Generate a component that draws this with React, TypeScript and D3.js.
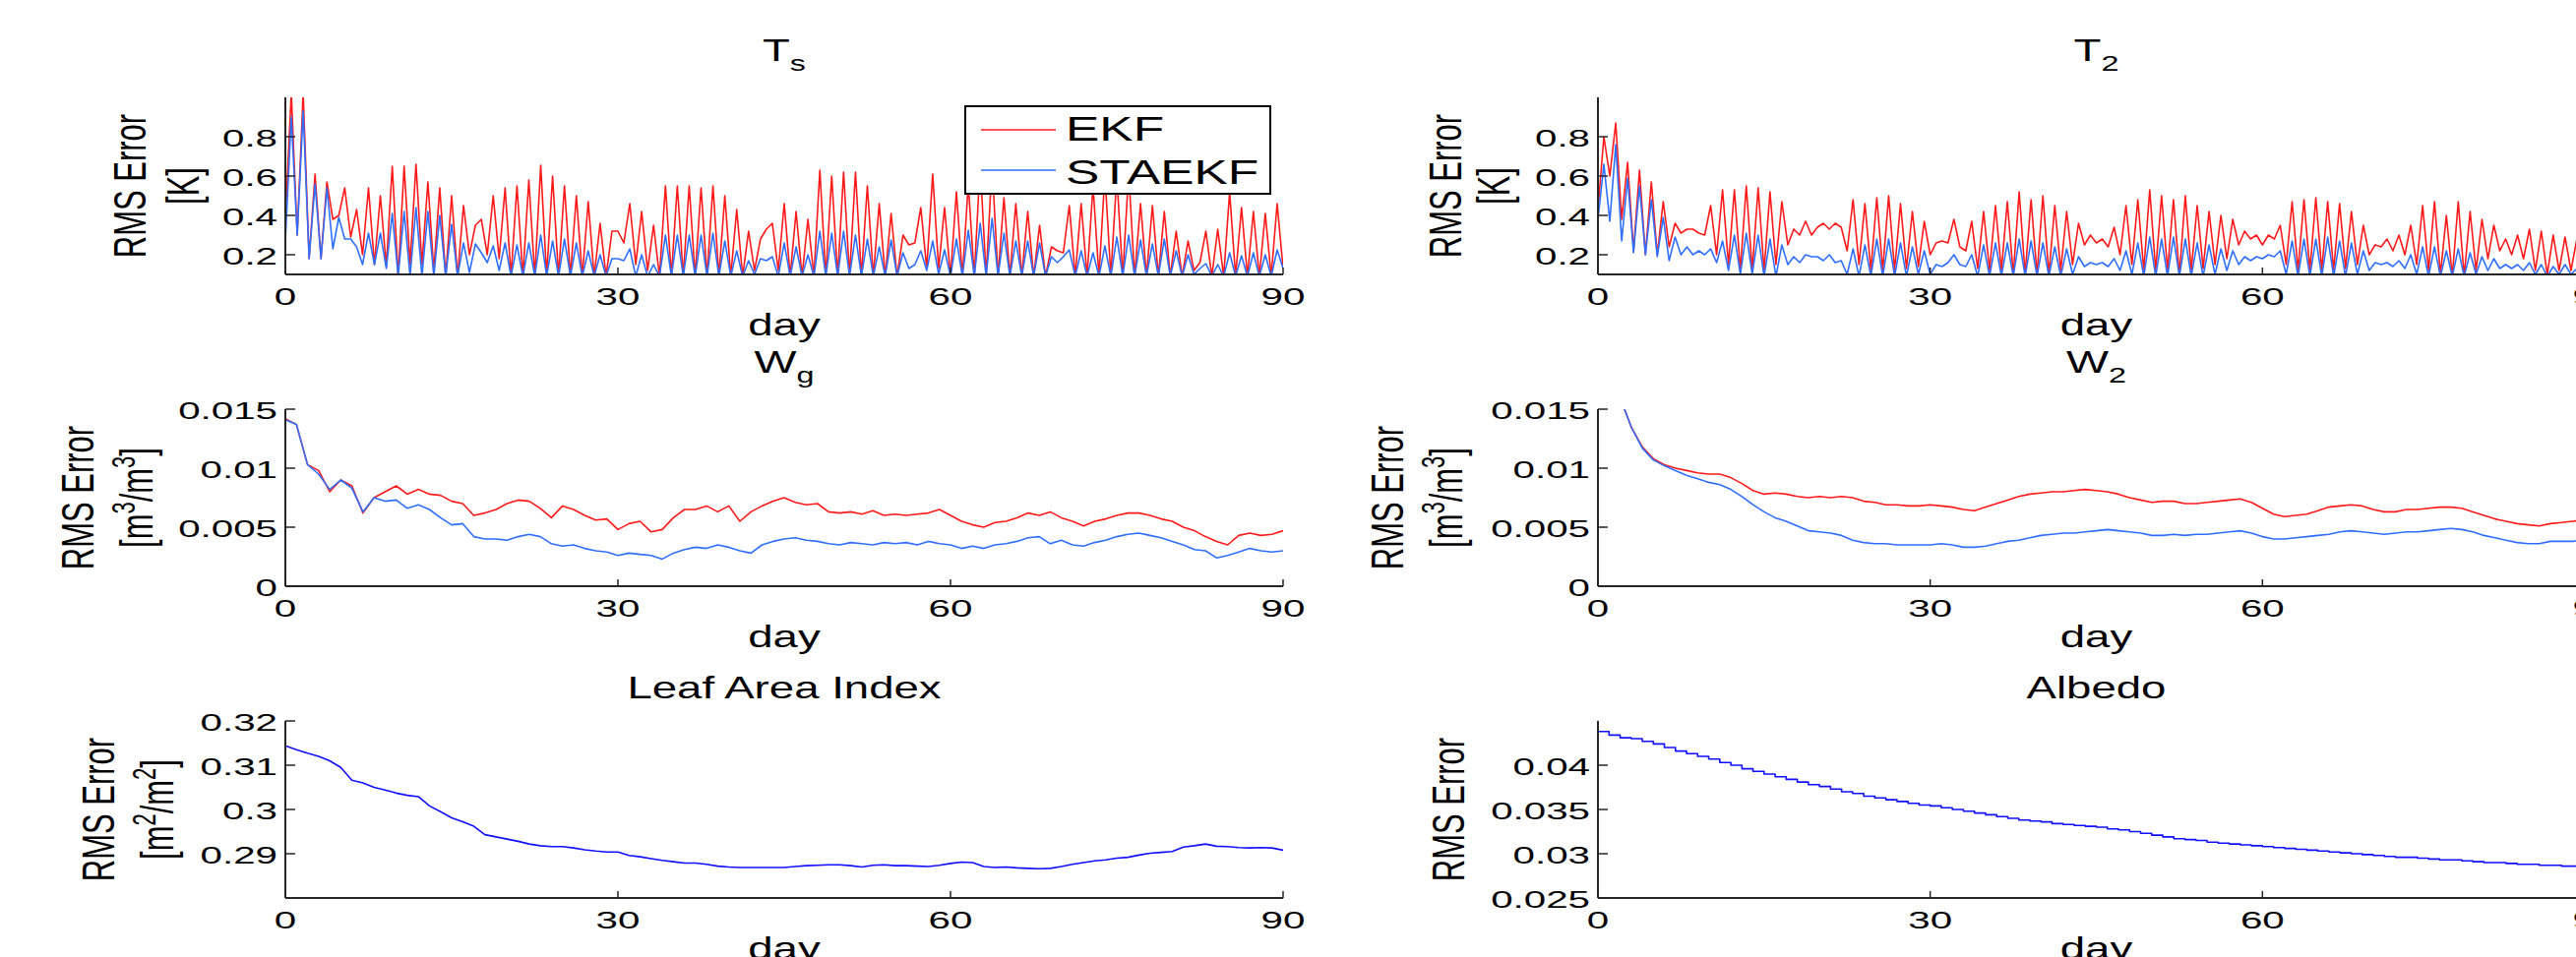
import React from "react";
import * as d3 from "d3";

const WIDTH = 2618;
const HEIGHT = 973;
const FONT = "'Liberation Sans', Arial, Helvetica, sans-serif";

// ---- data ----
const dayTicks = [0, 30, 60, 90];
const tTicks = [0.2, 0.4, 0.6, 0.8];
const wTicks = [0, 0.005, 0.01, 0.015];
const laiTicks = [0.29, 0.3, 0.31, 0.32];
const albedoTicks = [0.025, 0.03, 0.035, 0.04];

// T_s, samples evenly spaced over day 0..90
const tsEkf = [
  0.38, 1.02, 0.30, 1.02, 0.18, 0.61, 0.18, 0.57, 0.38, 0.40,
  0.54, 0.29, 0.43, 0.20, 0.54, 0.15, 0.50, 0.14, 0.65, 0.09,
  0.65, 0.15, 0.66, 0.15, 0.57, 0.12, 0.54, 0.09, 0.50, 0.09,
  0.45, 0.20, 0.35, 0.38, 0.20, 0.50, 0.18, 0.54,
  0.09, 0.55, 0.09, 0.58, 0.09, 0.655, 0.09, 0.60, 0.09, 0.55,
  0.09, 0.50, 0.09, 0.47, 0.09, 0.36, 0.09, 0.32, 0.32, 0.26,
  0.46, 0.15, 0.42, 0.12, 0.35, 0.09, 0.55, 0.09, 0.55, 0.09,
  0.55, 0.09, 0.54, 0.09, 0.55, 0.09, 0.50, 0.09, 0.43, 0.09,
  0.32, 0.12, 0.28, 0.33, 0.36, 0.12, 0.46, 0.09, 0.42, 0.09,
  0.38, 0.09, 0.63, 0.09, 0.60, 0.09, 0.62, 0.09, 0.62, 0.09,
  0.55, 0.09, 0.46, 0.09,
  0.41, 0.09, 0.30, 0.25, 0.26, 0.44, 0.13, 0.61, 0.13, 0.44,
  0.09, 0.52, 0.09, 0.56, 0.09, 0.66, 0.09, 0.66, 0.09, 0.49,
  0.09, 0.46, 0.09, 0.42, 0.09, 0.35, 0.09, 0.24, 0.22, 0.21,
  0.45, 0.09, 0.46, 0.09, 0.55, 0.09, 0.61, 0.09, 0.60, 0.09,
  0.62, 0.09, 0.46, 0.09, 0.45, 0.09, 0.42, 0.09, 0.32, 0.09,
  0.27, 0.12, 0.16, 0.32, 0.09, 0.33, 0.09, 0.52, 0.09, 0.44,
  0.09, 0.42, 0.09, 0.41, 0.09, 0.46, 0.13,
];
const tsStaekf = [
  0.27, 0.90, 0.30, 0.93, 0.18, 0.56, 0.18, 0.54, 0.23, 0.39,
  0.28, 0.28, 0.24, 0.15, 0.31, 0.15, 0.31, 0.13, 0.41, 0.09,
  0.42, 0.09, 0.44, 0.09, 0.42, 0.09, 0.40, 0.09, 0.355, 0.09,
  0.26, 0.11, 0.255, 0.21, 0.16, 0.245, 0.12, 0.26,
  0.09, 0.25, 0.09, 0.26, 0.09, 0.30, 0.09, 0.27, 0.09, 0.28,
  0.09, 0.26, 0.09, 0.22, 0.09, 0.20, 0.09, 0.18, 0.18, 0.17,
  0.23, 0.09, 0.20, 0.09, 0.15, 0.09, 0.30, 0.09, 0.30, 0.09,
  0.30, 0.09, 0.30, 0.09, 0.31, 0.09, 0.27, 0.09, 0.22, 0.09,
  0.17, 0.10, 0.18, 0.17, 0.19, 0.09, 0.26, 0.09, 0.24, 0.09,
  0.20, 0.09, 0.32, 0.09, 0.31, 0.09, 0.32, 0.09, 0.30, 0.09,
  0.28, 0.09, 0.24, 0.09,
  0.275, 0.09, 0.21, 0.13, 0.15, 0.22, 0.12, 0.27, 0.10, 0.225,
  0.09, 0.28, 0.09, 0.325, 0.09, 0.36, 0.09, 0.385, 0.09, 0.31,
  0.09, 0.27, 0.09, 0.27, 0.09, 0.26, 0.09, 0.19, 0.16, 0.19,
  0.225, 0.09, 0.22, 0.09, 0.21, 0.09, 0.245, 0.09, 0.29, 0.09,
  0.30, 0.09, 0.275, 0.09, 0.255, 0.09, 0.28, 0.09, 0.22, 0.09,
  0.20, 0.10, 0.13, 0.155, 0.09, 0.15, 0.09, 0.21, 0.09, 0.195,
  0.09, 0.21, 0.09, 0.20, 0.09, 0.225, 0.13,
];

// T_2, samples evenly spaced over day 0..90
const t2Ekf = [
  0.43, 0.80, 0.60, 0.87, 0.38, 0.67, 0.22, 0.63, 0.20, 0.57,
  0.20, 0.47, 0.24, 0.36, 0.31, 0.33, 0.33, 0.31, 0.30, 0.45,
  0.20, 0.53, 0.15, 0.53, 0.12, 0.55, 0.12, 0.54, 0.12, 0.52,
  0.15, 0.47, 0.25, 0.33, 0.30, 0.37, 0.30, 0.34, 0.36, 0.33,
  0.36, 0.34, 0.22, 0.48, 0.15, 0.46, 0.12, 0.49, 0.12, 0.50,
  0.12, 0.46, 0.13, 0.42, 0.14, 0.37, 0.20, 0.26, 0.27, 0.26,
  0.38, 0.24, 0.22, 0.37, 0.13, 0.42, 0.12, 0.45, 0.12, 0.47,
  0.10, 0.52, 0.10, 0.48, 0.10, 0.50, 0.10, 0.45, 0.12, 0.42,
  0.15, 0.36, 0.25, 0.30, 0.26, 0.28, 0.24, 0.34, 0.20, 0.45,
  0.15, 0.48, 0.12, 0.53, 0.12, 0.50, 0.12, 0.48, 0.10, 0.50,
  0.12, 0.45, 0.13, 0.42, 0.15, 0.40, 0.18, 0.38, 0.25, 0.32,
  0.28, 0.30, 0.25, 0.30, 0.28, 0.35, 0.15, 0.47, 0.12, 0.48,
  0.12, 0.49, 0.12, 0.47, 0.12, 0.46, 0.13, 0.42, 0.15, 0.35,
  0.20, 0.25, 0.24, 0.28, 0.22, 0.30, 0.20, 0.35, 0.15, 0.45,
  0.12, 0.47, 0.10, 0.40, 0.09, 0.47, 0.09, 0.42, 0.12, 0.38,
  0.18, 0.35, 0.22, 0.28, 0.20, 0.30, 0.18, 0.33, 0.12, 0.32,
  0.10, 0.30, 0.12, 0.29, 0.12, 0.28, 0.12, 0.30, 0.15,
];
const t2Staekf = [
  0.38, 0.66, 0.37, 0.76, 0.27, 0.59, 0.21, 0.55, 0.20, 0.48,
  0.19, 0.39, 0.17, 0.29, 0.20, 0.24, 0.20, 0.22, 0.20, 0.23,
  0.16, 0.27, 0.12, 0.30, 0.10, 0.31, 0.10, 0.30, 0.09, 0.28,
  0.09, 0.25, 0.15, 0.19, 0.16, 0.20, 0.19, 0.19, 0.17, 0.20,
  0.16, 0.17, 0.10, 0.23, 0.09, 0.25, 0.09, 0.28, 0.09, 0.28,
  0.09, 0.26, 0.09, 0.24, 0.10, 0.22, 0.10, 0.15, 0.14, 0.16,
  0.20, 0.15, 0.14, 0.20, 0.09, 0.25, 0.09, 0.26, 0.09, 0.26,
  0.09, 0.28, 0.09, 0.27, 0.09, 0.26, 0.09, 0.24, 0.09, 0.23,
  0.10, 0.19, 0.14, 0.16, 0.15, 0.16, 0.14, 0.18, 0.12, 0.22,
  0.10, 0.26, 0.09, 0.29, 0.09, 0.28, 0.09, 0.29, 0.09, 0.28,
  0.09, 0.26, 0.09, 0.25, 0.10, 0.23, 0.12, 0.22, 0.15, 0.19,
  0.17, 0.19, 0.18, 0.20, 0.19, 0.22, 0.10, 0.27, 0.09, 0.28,
  0.09, 0.28, 0.09, 0.29, 0.09, 0.27, 0.09, 0.26, 0.10, 0.22,
  0.12, 0.16, 0.15, 0.16, 0.14, 0.17, 0.13, 0.20, 0.10, 0.24,
  0.09, 0.24, 0.09, 0.22, 0.09, 0.23, 0.09, 0.21, 0.10, 0.19,
  0.12, 0.18, 0.13, 0.15, 0.13, 0.15, 0.12, 0.16, 0.10, 0.15,
  0.09, 0.14, 0.10, 0.15, 0.10, 0.13, 0.10, 0.14, 0.12,
];

// W_g, one value per day 0..90
const wgEkf = [
  0.0142, 0.0137, 0.0103, 0.0098, 0.0080, 0.0090, 0.0085, 0.0062, 0.0075, 0.0080,
  0.0085, 0.0078, 0.0082, 0.0078, 0.0077, 0.0072, 0.0070, 0.0060, 0.0062, 0.0065,
  0.0070, 0.0073, 0.0072, 0.0066, 0.0058, 0.0068, 0.0065, 0.0060, 0.0056, 0.0057,
  0.0048, 0.0053, 0.0055, 0.0046, 0.0048, 0.0058, 0.0065, 0.0065, 0.0068, 0.0063,
  0.0068, 0.0055, 0.0063, 0.0068, 0.0072, 0.0075, 0.0071, 0.0069, 0.0070, 0.0063,
  0.0062, 0.0063, 0.0061, 0.0064, 0.0060, 0.0061, 0.0060, 0.0061, 0.0062, 0.0065,
  0.0060, 0.0055, 0.0052, 0.0050, 0.0054, 0.0055, 0.0058, 0.0062, 0.0060, 0.0063,
  0.0058, 0.0055, 0.0051, 0.0055, 0.0057, 0.0060, 0.0062, 0.0062, 0.0060, 0.0057,
  0.0055, 0.0050, 0.0047, 0.0042, 0.0038, 0.0035, 0.0043, 0.0045, 0.0043, 0.0044, 0.0047,
];
const wgStaekf = [
  0.0141, 0.0137, 0.0103, 0.0095, 0.0082, 0.0090, 0.0083, 0.0063, 0.0075, 0.0072,
  0.0073, 0.0066, 0.0069, 0.0065, 0.0058, 0.0052, 0.0053, 0.0042, 0.0040, 0.0040,
  0.0039, 0.0042, 0.0044, 0.0042, 0.0036, 0.0034, 0.0035, 0.0032, 0.0030, 0.0029,
  0.0026, 0.0028, 0.0027, 0.0026, 0.0023, 0.0028, 0.0031, 0.0033, 0.0032, 0.0035,
  0.0033, 0.0030, 0.0028, 0.0035, 0.0038, 0.0040, 0.0041, 0.0039, 0.0038, 0.0036,
  0.0035, 0.0037, 0.0036, 0.0035, 0.0037, 0.0036, 0.0037, 0.0035, 0.0038, 0.0036,
  0.0035, 0.0032, 0.0034, 0.0032, 0.0035, 0.0036, 0.0038, 0.0041, 0.0042, 0.0036,
  0.0039, 0.0035, 0.0034, 0.0037, 0.0039, 0.0042, 0.0044, 0.0045, 0.0043, 0.0041,
  0.0038, 0.0035, 0.0031, 0.0030, 0.0024, 0.0026, 0.0029, 0.0032, 0.0030, 0.0029, 0.0030,
];

// W_2, one value per day 2..90
const w2Ekf = [
  0.0160, 0.0135, 0.0118, 0.0108, 0.0103, 0.0100, 0.0098, 0.0096,
  0.0095, 0.0095, 0.0092, 0.0087, 0.0081, 0.0078, 0.0079, 0.0078, 0.0076, 0.0075,
  0.0076, 0.0075, 0.0076, 0.0075, 0.0072, 0.0071, 0.0069, 0.0069, 0.0068, 0.0068,
  0.0069, 0.0068, 0.0067, 0.0065, 0.0064, 0.0067, 0.0070, 0.0073, 0.0076, 0.0078,
  0.0079, 0.0080, 0.0080, 0.0081, 0.0082, 0.0081, 0.0080, 0.0078, 0.0075, 0.0073,
  0.0071, 0.0072, 0.0072, 0.0070, 0.0070, 0.0071, 0.0072, 0.0073, 0.0074, 0.0071,
  0.0066, 0.0061, 0.0059, 0.0060, 0.0061, 0.0064, 0.0067, 0.0068, 0.0069, 0.0068,
  0.0065, 0.0063, 0.0063, 0.0065, 0.0065, 0.0066, 0.0067, 0.0067, 0.0066, 0.0063,
  0.0060, 0.0057, 0.0055, 0.0053, 0.0052, 0.0051, 0.0053, 0.0054, 0.0055, 0.0056, 0.0057,
];
const w2Staekf = [
  0.0160, 0.0135, 0.0117, 0.0107, 0.0102, 0.0098, 0.0094, 0.0091,
  0.0088, 0.0086, 0.0082, 0.0076, 0.0069, 0.0063, 0.0058, 0.0055, 0.0051, 0.0047,
  0.0046, 0.0045, 0.0043, 0.0039, 0.0037, 0.0036, 0.0036, 0.0035, 0.0035, 0.0035,
  0.0035, 0.0036, 0.0035, 0.0033, 0.0033, 0.0034, 0.0036, 0.0038, 0.0039, 0.0041,
  0.0043, 0.0044, 0.0045, 0.0045, 0.0046, 0.0047, 0.0048, 0.0047, 0.0046, 0.0045,
  0.0043, 0.0043, 0.0044, 0.0043, 0.0044, 0.0044, 0.0045, 0.0046, 0.0047, 0.0045,
  0.0042, 0.0040, 0.0040, 0.0041, 0.0042, 0.0043, 0.0044, 0.0046, 0.0047, 0.0046,
  0.0045, 0.0044, 0.0045, 0.0046, 0.0046, 0.0047, 0.0048, 0.0049, 0.0048, 0.0046,
  0.0043, 0.0041, 0.0039, 0.0037, 0.0036, 0.0036, 0.0038, 0.0038, 0.0038, 0.0039, 0.0039,
];

// Leaf Area Index, one value per day 0..90
const laiRms = [
  0.3144, 0.3135, 0.3127, 0.3120, 0.3110, 0.3095, 0.3066, 0.3060, 0.3050, 0.3044,
  0.3037, 0.3032, 0.3029, 0.3008, 0.2995, 0.2981, 0.2972, 0.2962, 0.2943, 0.2938,
  0.2933, 0.2928, 0.2922, 0.2918, 0.2916, 0.2916, 0.2913, 0.2909, 0.2906, 0.2904,
  0.2904, 0.2896, 0.2893, 0.2889, 0.2885, 0.2882, 0.2879, 0.2879, 0.2876, 0.2872,
  0.2870, 0.2869, 0.2869, 0.2869, 0.2869, 0.2869, 0.2871, 0.2873, 0.2874, 0.2875,
  0.2875, 0.2873, 0.2870, 0.2874, 0.2875, 0.2873, 0.2873, 0.2872, 0.2871, 0.2874,
  0.2878, 0.2881, 0.2880, 0.2871, 0.2869, 0.2870, 0.2868, 0.2867, 0.2866, 0.2867,
  0.2871, 0.2876, 0.2880, 0.2884, 0.2886, 0.2890, 0.2892, 0.2897, 0.2901, 0.2903,
  0.2905, 0.2915, 0.2918, 0.2922, 0.2917, 0.2916, 0.2914, 0.2913, 0.2914, 0.2913, 0.2908,
];

// Albedo, one value per day 0..90
const albedoRms = [
  0.0438, 0.0434, 0.0431, 0.0430, 0.0427, 0.0424, 0.0420, 0.0416, 0.0413, 0.0410,
  0.0407, 0.0403, 0.0400, 0.0396, 0.0393, 0.0390, 0.0387, 0.0384, 0.0381, 0.0378,
  0.0376, 0.0373, 0.0370, 0.0368, 0.0365, 0.0363, 0.0361, 0.0359, 0.0357, 0.0355,
  0.0354, 0.0352, 0.0350, 0.0348, 0.0346, 0.0344, 0.0342, 0.0340, 0.0338, 0.0337,
  0.0336, 0.0334, 0.0333, 0.0332, 0.0331, 0.0330, 0.0328, 0.0327, 0.0325, 0.0323,
  0.0321, 0.0319, 0.0317, 0.0316, 0.0315, 0.0313, 0.0312, 0.0311, 0.0310, 0.0309,
  0.0308, 0.0307, 0.0306, 0.0305, 0.0304, 0.0303, 0.0302, 0.0301, 0.0300, 0.0299,
  0.0298, 0.0297, 0.0296, 0.0296, 0.0295, 0.0294, 0.0293, 0.0293, 0.0292, 0.0291,
  0.0290, 0.0290, 0.0289, 0.0288, 0.0288, 0.0287, 0.0287, 0.0286, 0.0286, 0.0285, 0.0285,
];

const RED = "#ff1a1a";
const LIGHT_BLUE = "#2f6fff";
const BLUE = "#1010ff";
const AXIS = "#262626";

// layout of the 3x2 grid (right column runs off the page like the original)
const COL_X = [290, 1624];
const COL_W = [1014, 1013];
const ROW_Y = [99, 416, 733];
const ROW_H = 180;

type Series = { values: number[]; from: number; to: number; color: string; step?: boolean };
type Spec = {
  id: string;
  col: number;
  row: number;
  yDomain: [number, number];
  yTicks: number[];
  title: string;
  sub?: string;
  unit?: "K" | "m3" | "m2";
  labelX: number[];
  series: Series[];
  legend?: boolean;
};

const panels: Spec[] = [
  {
    id: "ts", col: 0, row: 0, yDomain: [0.1, 1.0], yTicks: tTicks, title: "T", sub: "s", unit: "K",
    labelX: [148, 202], legend: true,
    series: [
      { values: tsEkf, from: 0, to: 90, color: RED },
      { values: tsStaekf, from: 0, to: 90, color: LIGHT_BLUE },
    ],
  },
  {
    id: "t2", col: 1, row: 0, yDomain: [0.1, 1.0], yTicks: tTicks, title: "T", sub: "2", unit: "K",
    labelX: [1485, 1534],
    series: [
      { values: t2Ekf, from: 0, to: 90, color: RED },
      { values: t2Staekf, from: 0, to: 90, color: LIGHT_BLUE },
    ],
  },
  {
    id: "wg", col: 0, row: 1, yDomain: [0, 0.015], yTicks: wTicks, title: "W", sub: "g", unit: "m3",
    labelX: [95, 155],
    series: [
      { values: wgEkf, from: 0, to: 90, color: RED },
      { values: wgStaekf, from: 0, to: 90, color: LIGHT_BLUE },
    ],
  },
  {
    id: "w2", col: 1, row: 1, yDomain: [0, 0.015], yTicks: wTicks, title: "W", sub: "2", unit: "m3",
    labelX: [1426, 1486],
    series: [
      { values: w2Ekf, from: 2, to: 90, color: RED },
      { values: w2Staekf, from: 2, to: 90, color: LIGHT_BLUE },
    ],
  },
  {
    id: "lai", col: 0, row: 2, yDomain: [0.28, 0.32], yTicks: laiTicks, title: "Leaf Area Index", unit: "m2",
    labelX: [116, 176],
    series: [{ values: laiRms, from: 0, to: 90, color: BLUE }],
  },
  {
    id: "alb", col: 1, row: 2, yDomain: [0.025, 0.045], yTicks: albedoTicks, title: "Albedo",
    labelX: [1488],
    series: [{ values: albedoRms, from: 0, to: 90, color: BLUE, step: true }],
  },
];

// text squeezed/stretched horizontally like the source figure
function SText({ x, y, sx, size, anchor = "start", rotate = false, children }: any) {
  return (
    <text
      transform={`translate(${x},${y}) scale(${sx},1)${rotate ? " rotate(-90)" : ""}`}
      textAnchor={anchor}
      fontSize={size}
      fontFamily={FONT}
      fill="#000"
    >
      {children}
    </text>
  );
}

function UnitLabel({ unit }: { unit: "K" | "m3" | "m2" }) {
  if (unit === "K") return <>[K]</>;
  const p = unit === "m3" ? "3" : "2";
  return (
    <>
      [m
      <tspan dy={-12} fontSize={22}>{p}</tspan>
      <tspan dy={12}>/m</tspan>
      <tspan dy={-12} fontSize={22}>{p}</tspan>
      <tspan dy={12}>]</tspan>
    </>
  );
}

function Panel({ spec }: { spec: Spec }) {
  const left = COL_X[spec.col];
  const width = COL_W[spec.col];
  const top = ROW_Y[spec.row];
  const bottom = top + ROW_H;
  const x = d3.scaleLinear().domain([0, 90]).range([left, left + width]);
  const y = d3.scaleLinear().domain(spec.yDomain).range([bottom, top]);
  const cx = left + width / 2;
  const cy = top + ROW_H / 2;

  return (
    <g>
      <defs>
        <clipPath id={`clip-${spec.id}`}>
          <rect x={left} y={top} width={width} height={ROW_H} />
        </clipPath>
      </defs>

      <g clipPath={`url(#clip-${spec.id})`}>
        {spec.series.map((s, i) => {
          const n = s.values.length;
          const pts: [number, number][] = s.values.map((v, k) => [s.from + (k * (s.to - s.from)) / (n - 1), v]);
          const line = d3
            .line<[number, number]>()
            .x((d) => x(d[0]))
            .y((d) => y(d[1]))
            .curve(s.step ? d3.curveStepAfter : d3.curveLinear);
          return (
            <path key={i} d={line(pts) || ""} fill="none" stroke={s.color} strokeWidth={1.6} strokeLinejoin="round" />
          );
        })}
      </g>

      {/* axes, box off */}
      <line x1={left} x2={left} y1={top} y2={bottom} stroke={AXIS} strokeWidth={2} />
      <line x1={left} x2={left + width} y1={bottom} y2={bottom} stroke={AXIS} strokeWidth={2} />
      {spec.yTicks.map((t) => (
        <g key={`yt${t}`}>
          <line x1={left} x2={left + 10} y1={y(t)} y2={y(t)} stroke={AXIS} strokeWidth={1.5} />
          <SText x={left - 8} y={y(t) + 10} sx={1.68} size={24} anchor="end">
            {String(t)}
          </SText>
        </g>
      ))}
      {dayTicks.map((t) => (
        <g key={`xt${t}`}>
          <line x1={x(t)} x2={x(t)} y1={bottom} y2={bottom - 7} stroke={AXIS} strokeWidth={1.5} />
          <SText x={x(t)} y={bottom + 31} sx={1.68} size={24} anchor="middle">
            {String(t)}
          </SText>
        </g>
      ))}

      {/* title */}
      {spec.sub ? (
        <SText x={cx} y={top - 37} sx={1.47} size={31} anchor="middle">
          {spec.title}
          <tspan dy={10} fontSize={22}>{spec.sub}</tspan>
        </SText>
      ) : (
        <SText x={cx} y={top - 23} sx={1.47} size={31} anchor="middle">
          {spec.title}
        </SText>
      )}

      {/* x label */}
      <SText x={cx} y={bottom + 62} sx={1.47} size={31} anchor="middle">
        day
      </SText>

      {/* y label */}
      <SText x={spec.labelX[0]} y={cy} sx={1.5} size={31} anchor="middle" rotate>
        RMS Error
      </SText>
      {spec.unit && (
        <SText x={spec.labelX[1]} y={cy} sx={1.5} size={31} anchor="middle" rotate>
          <UnitLabel unit={spec.unit} />
        </SText>
      )}

      {spec.legend && (
        <g>
          <rect x={981} y={108} width={310} height={89} fill="#fff" stroke="#000" strokeWidth={2} />
          <line x1={997} x2={1073} y1={132} y2={132} stroke={RED} strokeWidth={1.6} />
          <line x1={997} x2={1073} y1={173} y2={173} stroke={LIGHT_BLUE} strokeWidth={1.6} />
          <SText x={1083} y={143} sx={1.47} size={35}>EKF</SText>
          <SText x={1083} y={187} sx={1.47} size={35}>STAEKF</SText>
        </g>
      )}
    </g>
  );
}

export default function App() {
  return (
    <svg
      width={WIDTH}
      height={HEIGHT}
      viewBox={`0 0 ${WIDTH} ${HEIGHT}`}
      style={{ position: "absolute", left: 0, top: 0, background: "#fff", display: "block" }}
    >
      <rect width={WIDTH} height={HEIGHT} fill="#fff" />
      {panels.map((p) => (
        <Panel key={p.id} spec={p} />
      ))}
    </svg>
  );
}
